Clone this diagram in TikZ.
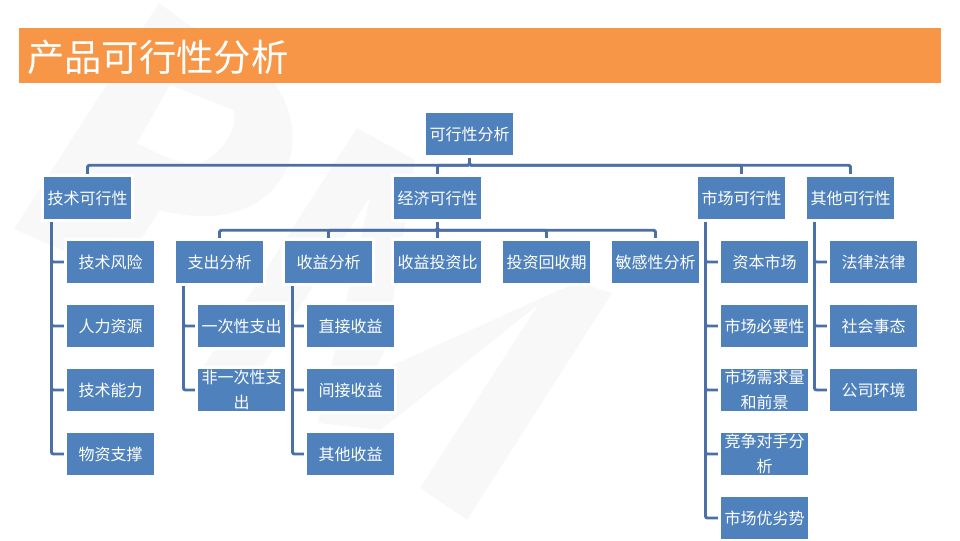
\documentclass[tikz,border=0pt]{standalone}
\usepackage{fontspec}
\newfontfamily\cjk{Noto Sans CJK SC}
\definecolor{boxblue}{HTML}{4F81BD}
\definecolor{linkblue}{HTML}{4A70A6}
\definecolor{bandorange}{HTML}{F79646}
\definecolor{markgray}{HTML}{F8F8F8}
\tikzset{
	item/.style={fill=boxblue,preaction={draw=white,line width=4.5pt},text=white,minimum width=65.25pt,minimum height=31.5pt,inner sep=0pt,align=center,font=\cjk\fontsize{12}{18.75}\selectfont},
	link/.style={draw=linkblue,line width=2.2pt,rounded corners=1.5pt,shorten <=2.2pt,shorten >=2.2pt}
}
\begin{document}
\begin{tikzpicture}[x=0.75pt,y=-0.75pt]
	\useasboundingbox (0,0) rectangle (960,540);
	% watermark
	\fill[markgray,even odd rule] (14,229) -- (159,3) -- (182,20) -- (260,70) .. controls (290,92) and (300,135) .. (287,167) .. controls (272,205) and (225,228) .. (160,210) -- (118,275) -- cycle
		(137,143) -- (170,85) -- (233,110) .. controls (240,125) and (222,155) .. (200,163) .. controls (180,165) and (160,155) .. (137,143) -- cycle;
	\fill[markgray] (357,128) -- (415,160) -- (385,350) -- (373,374) -- (577,282) -- (612,293) -- (467,520) -- (420,488) -- (538,305) -- (397,417) -- (380,430) -- (318,423) -- (370,197) -- (242,398) -- (200,372) -- cycle;
	% title
	\fill[bandorange] (19,28) rectangle (941,83);
	\node[anchor=west,inner sep=0pt,text=white,font=\cjk\fontsize{28}{34}\selectfont] (title) at (27,57) {产品可行性分析};
	% top
	\node[item] (feasible) at (469.5,134) {可行性分析};
	\node[item] (tech) at (87.5,198) {技术可行性};
	\node[item] (econ) at (437.5,198) {经济可行性};
	\node[item] (market) at (741.5,198) {市场可行性};
	\node[item] (other) at (850.5,198) {其他可行性};
	% technology
	\node[item] (risk) at (110.5,262) {技术风险};
	\node[item] (staff) at (110.5,326) {人力资源};
	\node[item] (skill) at (110.5,390) {技术能力};
	\node[item] (supply) at (110.5,454) {物资支撑};
	% economy
	\node[item] (cost) at (219.5,262) {支出分析};
	\node[item] (gain) at (328.5,262) {收益分析};
	\node[item] (ratio) at (437.5,262) {收益投资比};
	\node[item] (payback) at (546.5,262) {投资回收期};
	\node[item] (sensitive) at (655.5,262) {敏感性分析};
	\node[item] (once) at (241.5,326) {一次性支出};
	\node[item] (nononce) at (241.5,390) {非一次性支\\出};
	\node[item] (direct) at (350.5,326) {直接收益};
	\node[item] (indirect) at (350.5,390) {间接收益};
	\node[item] (othergain) at (350.5,454) {其他收益};
	% market
	\node[item] (capital) at (764.5,262) {资本市场};
	\node[item] (need) at (764.5,326) {市场必要性};
	\node[item] (demand) at (764.5,390) {市场需求量\\和前景};
	\node[item] (rival) at (764.5,454) {竞争对手分\\析};
	\node[item] (swot) at (764.5,518) {市场优劣势};
	% other
	\node[item] (law) at (873.5,262) {法律法律};
	\node[item] (society) at (873.5,326) {社会事态};
	\node[item] (company) at (873.5,390) {公司环境};
	% links
	\foreach \kid in {tech,econ,market,other}
		\draw[link] (feasible.south) -- ++(0,10) -| (\kid.north);
	\foreach \kid in {cost,gain,ratio,payback,sensitive}
		\draw[link] (econ.south) -- ++(0,11) -| (\kid.north);
	\foreach \kid in {risk,staff,skill,supply}
		\draw[link] ([xshift=5.8pt]tech.south west) |- (\kid.west);
	\foreach \kid in {once,nononce}
		\draw[link] ([xshift=5.8pt]cost.south west) |- (\kid.west);
	\foreach \kid in {direct,indirect,othergain}
		\draw[link] ([xshift=5.8pt]gain.south west) |- (\kid.west);
	\foreach \kid in {capital,need,demand,rival,swot}
		\draw[link] ([xshift=5.8pt]market.south west) |- (\kid.west);
	\foreach \kid in {law,society,company}
		\draw[link] ([xshift=5.8pt]other.south west) |- (\kid.west);
\end{tikzpicture}
\end{document}
